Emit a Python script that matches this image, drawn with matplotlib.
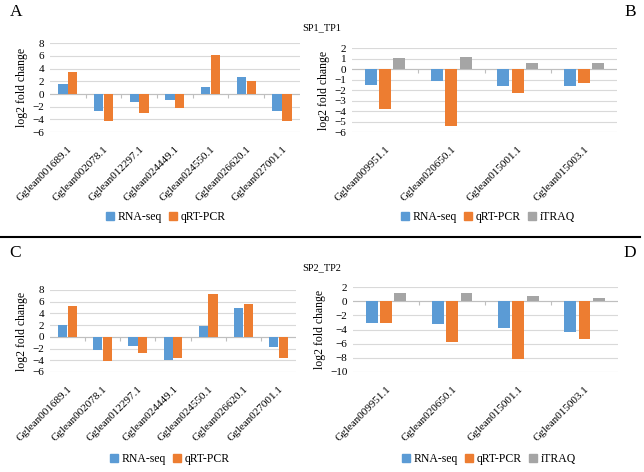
import numpy as np
import matplotlib
matplotlib.use('Agg')
import matplotlib.pyplot as plt
from matplotlib.patches import Patch
from matplotlib.lines import TICKDOWN

plt.rcParams['font.family'] = ['Liberation Serif', 'DejaVu Serif']

# data
genes_ac = ['Gglean001689.1', 'Gglean002078.1', 'Gglean012297.1', 'Gglean024449.1',
            'Gglean024550.1', 'Gglean026620.1', 'Gglean027001.1']
genes_bd = ['Gglean009951.1', 'Gglean020650.1', 'Gglean015001.1', 'Gglean015003.1']

a_rna = [1.5, -2.6, -1.2, -1.0, 1.1, 2.6, -2.6]
a_qpcr = [3.5, -4.3, -3.0, -2.2, 6.2, 2.0, -4.3]

b_rna = [-1.5, -1.1, -1.6, -1.6]
b_qpcr = [-3.8, -5.4, -2.3, -1.3]
b_itraq = [1.1, 1.2, 0.55, 0.6]

c_rna = [2.1, -2.2, -1.6, -3.9, 1.9, 4.9, -1.8]
c_qpcr = [5.2, -4.1, -2.8, -3.6, 7.3, 5.6, -3.6]

d_rna = [-3.1, -3.2, -3.8, -4.4]
d_qpcr = [-3.1, -5.7, -8.1, -5.4]
d_itraq = [1.2, 1.1, 0.8, 0.5]

BLUE = '#5B9BD5'
ORANGE = '#ED7D31'
GRAY = '#A5A5A5'
GRID = '#D9D9D9'
AXIS = '#BFBFBF'
FS = 8

fig = plt.figure(figsize=(6.44, 4.72), dpi=100)


def panel(rect, genes, series, colors, ylim, step, width, spacing):
    ax = fig.add_axes(rect)
    x = np.arange(len(genes))
    n = len(series)
    for i, (vals, c) in enumerate(zip(series, colors)):
        ax.bar(x + (i - (n - 1) / 2) * spacing, vals, width, color=c, zorder=3)
    lo, hi = ylim
    ax.set_ylim(lo, hi)
    ax.set_xlim(-0.5, len(genes) - 0.5)
    ax.set_yticks(np.arange(lo, hi + 0.1, step))
    ax.yaxis.grid(True, color=GRID, lw=0.8, zorder=0)
    ax.set_axisbelow(True)
    for s in ax.spines.values():
        s.set_visible(False)
    ax.tick_params(axis='y', length=0, labelsize=FS, pad=4)
    ax.set_xticks(x)
    ax.set_xticklabels(genes, rotation=45, ha='right', rotation_mode='anchor', fontsize=FS)
    ax.tick_params(axis='x', length=0, pad=9)
    ax.set_ylabel('log2 fold change', fontsize=8.5, labelpad=3)
    # zero axis line with tick marks between categories
    ax.axhline(0, color=AXIS, lw=0.8, zorder=2)
    bnd = np.arange(1, len(genes)) - 0.5
    ax.plot(bnd, np.zeros_like(bnd), ls='none', marker=TICKDOWN, ms=3,
            mew=0.8, color=AXIS, zorder=2, clip_on=False)
    return ax


panel([0.0776, 0.720, 0.388, 0.1886], genes_ac, [a_rna, a_qpcr], [BLUE, ORANGE],
      (-6, 8), 2, 0.26, 0.275)
panel([0.5466, 0.720, 0.4115, 0.178], genes_bd, [b_rna, b_qpcr, b_itraq],
      [BLUE, ORANGE, GRAY], (-6, 2), 1, 0.18, 0.216)
panel([0.0776, 0.2119, 0.382, 0.1737], genes_ac, [c_rna, c_qpcr], [BLUE, ORANGE],
      (-6, 8), 2, 0.26, 0.275)
panel([0.548, 0.2119, 0.411, 0.180], genes_bd, [d_rna, d_qpcr, d_itraq],
      [BLUE, ORANGE, GRAY], (-10, 2), 2, 0.18, 0.216)

h2 = [Patch(color=BLUE, label='RNA-seq'), Patch(color=ORANGE, label='qRT-PCR')]
h3 = h2 + [Patch(color=GRAY, label='iTRAQ')]
leg_kw = dict(loc='center', frameon=False, fontsize=8.5, ncol=3, handlelength=0.7,
              handleheight=0.7, handletextpad=0.3, columnspacing=0.6)
fig.legend(handles=h2, bbox_to_anchor=(166 / 644, 1 - 217 / 472), **leg_kw)
fig.legend(handles=h3, bbox_to_anchor=(488 / 644, 1 - 217 / 472), **leg_kw)
fig.legend(handles=h2, bbox_to_anchor=(170 / 644, 1 - 459 / 472), **leg_kw)
fig.legend(handles=h3, bbox_to_anchor=(489 / 644, 1 - 459 / 472), **leg_kw)

fig.text(322 / 644, 1 - 28 / 472, 'SP1_TP1', ha='center', va='center', fontsize=7.5)
fig.text(322 / 644, 1 - 268 / 472, 'SP2_TP2', ha='center', va='center', fontsize=7.5)

for lab, xx, yy in [('A', 16, 12), ('B', 630, 12), ('C', 15, 253), ('D', 630, 253)]:
    fig.text(xx / 644, 1 - yy / 472, lab, ha='center', va='center', fontsize=12.5)

fig.add_artist(plt.Line2D([0, 640 / 644], [1 - 237 / 472] * 2, color='black', lw=1.5))

fig.savefig('out.png', dpi=100)
